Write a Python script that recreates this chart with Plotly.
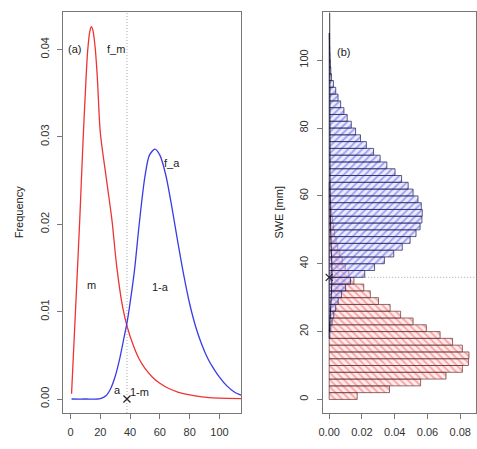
import plotly.graph_objects as go

# ---- Panel (a): density curves ----
red_x = [0.7, 2, 4, 6.2, 8.4, 10, 11.5, 13, 14, 15, 16.5, 18, 20, 24, 27.8, 31, 35, 38, 42, 46, 50, 55, 60, 66, 72, 79, 86, 93, 100, 115]
red_y = [0.0006, 0.0053, 0.0125, 0.0205, 0.0295, 0.0352, 0.0398, 0.0421, 0.0426, 0.0422, 0.0403, 0.0368, 0.0305, 0.0253, 0.0205, 0.0152, 0.0105, 0.0083, 0.0062, 0.0046, 0.0035, 0.0025, 0.0018, 0.0012, 0.0008, 0.0005, 0.0003, 0.00015, 0.0001, 0.00005]

blue_x = [0.7, 10, 20, 24, 27, 30, 33, 36, 38, 40, 43, 46, 50, 53, 56.7, 60, 64, 68, 72, 76, 80, 84, 88, 92, 96, 100, 105, 110, 115]
blue_y = [0.0, 0.0, 0.00005, 0.0004, 0.0012, 0.0026, 0.0046, 0.0071, 0.0088, 0.0110, 0.0148, 0.0198, 0.0255, 0.0279, 0.0286, 0.0279, 0.0256, 0.0220, 0.0180, 0.0142, 0.0109, 0.0083, 0.0063, 0.0047, 0.0035, 0.0025, 0.0015, 0.0008, 0.0004]

threshold = 37.9
swe_threshold = 36

# ---- Panel (b): histograms (bin lower edges, width 2) ----
bin_width = 2
red_bins = [0, 2, 4, 6, 8, 10, 12, 14, 16, 18, 20, 22, 24, 26, 28, 30, 32, 34,
            36, 38, 40, 42, 44, 46, 48, 50, 52, 54, 56, 58, 60, 62]
red_vals = [0.0171, 0.0368, 0.0558, 0.0713, 0.0813, 0.0850, 0.0853, 0.0813, 0.0753, 0.0677,
            0.0593, 0.0512, 0.0436, 0.0372, 0.0301, 0.0251, 0.0211, 0.0151,
            0.0120, 0.0098, 0.0080, 0.0065, 0.0052, 0.0042, 0.0033, 0.0026, 0.0020, 0.0015,
            0.0011, 0.0008, 0.0006, 0.0004]

blue_bins = [18, 20, 22, 24, 26, 28, 30, 32, 34,
             36, 38, 40, 42, 44, 46, 48, 50, 52, 54, 56, 58, 60, 62, 64, 66, 68, 70,
             72, 74, 76, 78, 80, 82, 84, 86, 88, 90, 92, 94, 96, 98, 100, 102, 104, 106]
blue_vals = [0.0004, 0.0010, 0.0018, 0.0028, 0.0040, 0.0055, 0.0075, 0.0100, 0.0130,
             0.0217, 0.0277, 0.0337, 0.0394, 0.0446, 0.0494, 0.0530, 0.0555, 0.0566, 0.0568,
             0.0562, 0.0542, 0.0512, 0.0482, 0.0442, 0.0402, 0.0352, 0.0311,
             0.0271, 0.0227, 0.0191, 0.0161, 0.0135, 0.0110, 0.0090, 0.0070, 0.0054,
             0.0040, 0.0026, 0.0014, 0.0010, 0.0007, 0.0005, 0.0003, 0.0002, 0.0001]

black_swe = [114, 100, 80, 60, 50, 44, 40, 36, 32, 28, 24, 20]
black_val = [0.0003, 0.0004, 0.0005, 0.0006, 0.0009, 0.0013, 0.0016, 0.0017, 0.0014, 0.0010, 0.0006, 0.0001]

W, H = 477, 449
FONT = "Liberation Sans, Arial, sans-serif"

fig = go.Figure()

# Panel (a)
fig.add_trace(go.Scatter(x=red_x, y=red_y, mode="lines", line=dict(color="#ee3333", width=1.3, shape="spline", smoothing=0.8),
                         xaxis="x", yaxis="y", showlegend=False, hoverinfo="skip"))
fig.add_trace(go.Scatter(x=blue_x, y=blue_y, mode="lines", line=dict(color="#3a3ae6", width=1.3, shape="spline", smoothing=0.8),
                         xaxis="x", yaxis="y", showlegend=False, hoverinfo="skip"))
fig.add_trace(go.Scatter(x=[threshold], y=[0], mode="markers", marker=dict(symbol="x-thin", size=7, line=dict(color="#222", width=1.2)),
                         xaxis="x", yaxis="y", showlegend=False, hoverinfo="skip"))

# Panel (b)
fig.add_trace(go.Bar(y=[b + bin_width / 2 for b in red_bins], x=red_vals, width=bin_width, orientation="h",
                     marker=dict(color="rgba(255,215,215,0.45)", line=dict(color="rgba(90,40,40,0.85)", width=0.8),
                                 pattern=dict(shape="\\", fgcolor="rgba(238,80,80,0.9)", bgcolor="rgba(255,215,215,0.45)",
                                              size=5, solidity=0.4, fillmode="overlay")),
                     xaxis="x2", yaxis="y2", showlegend=False, hoverinfo="skip"))
fig.add_trace(go.Bar(y=[b + bin_width / 2 for b in blue_bins], x=blue_vals, width=bin_width, orientation="h",
                     marker=dict(color="rgba(215,215,255,0.45)", line=dict(color="rgba(30,30,90,0.9)", width=0.8),
                                 pattern=dict(shape="/", fgcolor="rgba(70,70,225,0.9)", bgcolor="rgba(215,215,255,0.45)",
                                              size=5, solidity=0.4, fillmode="overlay")),
                     xaxis="x2", yaxis="y2", showlegend=False, hoverinfo="skip"))
fig.add_trace(go.Scatter(x=black_val, y=black_swe, mode="lines", line=dict(color="black", width=0.8, shape="spline"),
                         xaxis="x2", yaxis="y2", showlegend=False, hoverinfo="skip"))
fig.add_trace(go.Scatter(x=[0], y=[swe_threshold], mode="markers", marker=dict(symbol="x-thin", size=7, line=dict(color="#222", width=1.2)),
                         xaxis="x2", yaxis="y2", showlegend=False, hoverinfo="skip"))

axis_common = dict(showgrid=False, zeroline=False, showline=True, linecolor="#777", linewidth=1, mirror=True,
                   ticks="outside", ticklen=5, tickcolor="#777", tickfont=dict(family=FONT, size=11, color="#333"),
                   ticklabelstandoff=4)

x1d = [60 / W, 240 / W]
x2d = [322 / W, 1.0]

fig.update_layout(
    width=W, height=H, margin=dict(l=0, r=0, t=12, b=36),
    paper_bgcolor="white", plot_bgcolor="white", barmode="overlay",
    font=dict(family=FONT, size=11, color="#222"),
    xaxis=dict(domain=x1d, range=[-4.8, 114.8], tickvals=[0, 20, 40, 60, 80, 100], anchor="y", **axis_common),
    yaxis=dict(domain=[0, 1], range=[-0.0016, 0.04428], tickvals=[0, 0.01, 0.02, 0.03, 0.04],
               ticktext=["0.00", "0.01", "0.02", "0.03", "0.04"], tickangle=-90, anchor="x", **axis_common),
    xaxis2=dict(domain=x2d, range=[-0.004, 0.0896], tickvals=[0, 0.02, 0.04, 0.06, 0.08],
                ticktext=["0.00", "0.02", "0.04", "0.06", "0.08"], anchor="y2", **axis_common),
    yaxis2=dict(domain=[0, 1], range=[-4.0, 114.2], tickvals=[0, 20, 40, 60, 80, 100], tickangle=-90, anchor="x2", **axis_common),
    shapes=[
        dict(type="line", xref="x", yref="paper", x0=threshold, x1=threshold, y0=0, y1=1,
             line=dict(color="#aaa", width=1, dash="1px,2px"), layer="below"),
        dict(type="line", xref="x2", yref="y2", x0=0, x1=0.0896, y0=swe_threshold, y1=swe_threshold,
             line=dict(color="#aaa", width=1, dash="1px,2px"), layer="below"),
    ],
)

ann = [
    ("(a)", 2.9, 0.0400, "x", "y"),
    ("f_m", 30.6, 0.0400, "x", "y"),
    ("f_a", 68.2, 0.0270, "x", "y"),
    ("m", 14.4, 0.0130, "x", "y"),
    ("1-a", 60.1, 0.0128, "x", "y"),
    ("a", 31.7, 0.00103, "x", "y"),
    ("1-m", 46.5, 0.00084, "x", "y"),
    ("(b)", 0.009, 102.3, "x2", "y2"),
]
for t, xx, yy, xr, yr in ann:
    fig.add_annotation(text=t, x=xx, y=yy, xref=xr, yref=yr, showarrow=False,
                       font=dict(family=FONT, size=11, color="#222"))

fig.add_annotation(text="Frequency", x=15 / W, y=0.5, xref="paper", yref="paper", textangle=-90,
                   xanchor="center", yanchor="middle",
                   showarrow=False, font=dict(family=FONT, size=11, color="#222"))
fig.add_annotation(text="SWE [mm]", x=277 / W, y=0.5, xref="paper", yref="paper", textangle=-90,
                   xanchor="center", yanchor="middle",
                   showarrow=False, font=dict(family=FONT, size=11, color="#222"))

fig.write_html("out.html")
